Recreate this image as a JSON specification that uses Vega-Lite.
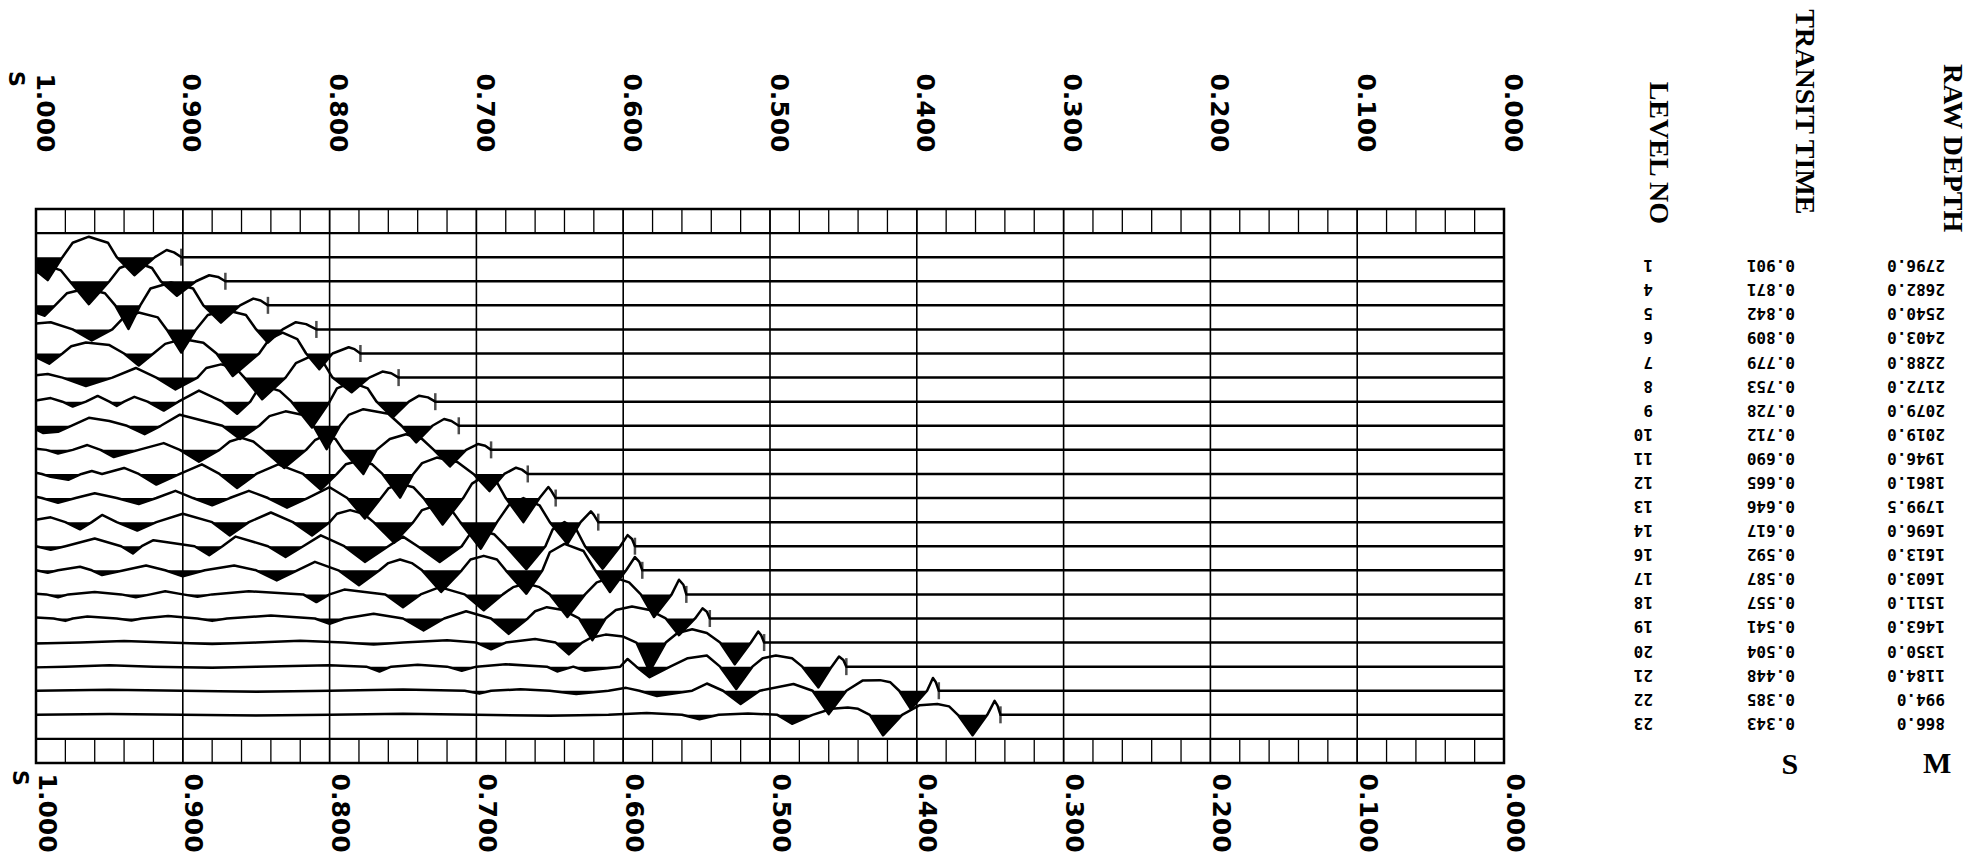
{
"$schema":"https://vega.github.io/schema/vega-lite/v6.json",
"width":1468,"height":554,
"autosize":{"type":"none"},
"padding":{"left":36,"top":209,"right":474,"bottom":96},
"background":"white",
"config":{"view":{"stroke":"black","strokeWidth":2.5}},
"resolve":{"axis":{"x":"independent"}},
"datasets":{
"g":[{"t":0.1},{"t":0.2},{"t":0.3},{"t":0.4},{"t":0.5},{"t":0.6},{"t":0.7},{"t":0.8},{"t":0.9}],
"s":[{"t":0.02},{"t":0.04},{"t":0.06},{"t":0.08},{"t":0.1},{"t":0.12},{"t":0.14},{"t":0.16},{"t":0.18},{"t":0.2},{"t":0.22},{"t":0.24},{"t":0.26},{"t":0.28},{"t":0.3},{"t":0.32},{"t":0.34},{"t":0.36},{"t":0.38},{"t":0.4},{"t":0.42},{"t":0.44},{"t":0.46},{"t":0.48},{"t":0.5},{"t":0.52},{"t":0.54},{"t":0.56},{"t":0.58},{"t":0.6},{"t":0.62},{"t":0.64},{"t":0.66},{"t":0.68},{"t":0.7},{"t":0.72},{"t":0.74},{"t":0.76},{"t":0.78},{"t":0.8},{"t":0.82},{"t":0.84},{"t":0.86},{"t":0.88},{"t":0.9},{"t":0.92},{"t":0.94},{"t":0.96},{"t":0.98}],
"lv":[
{"k":1,"t":0.901,"lvl":"1","d":"2796.0"},{"k":2,"t":0.871,"lvl":"4","d":"2682.0"},{"k":3,"t":0.842,"lvl":"5","d":"2540.0"},{"k":4,"t":0.809,"lvl":"6","d":"2403.0"},{"k":5,"t":0.779,"lvl":"7","d":"2288.0"},{"k":6,"t":0.753,"lvl":"8","d":"2172.0"},{"k":7,"t":0.728,"lvl":"9","d":"2079.0"},{"k":8,"t":0.712,"lvl":"10","d":"2019.0"},{"k":9,"t":0.690,"lvl":"11","d":"1946.0"},{"k":10,"t":0.665,"lvl":"12","d":"1861.0"},{"k":11,"t":0.646,"lvl":"13","d":"1799.5"},{"k":12,"t":0.617,"lvl":"14","d":"1696.0"},{"k":13,"t":0.592,"lvl":"16","d":"1613.0"},{"k":14,"t":0.587,"lvl":"17","d":"1603.0"},{"k":15,"t":0.557,"lvl":"18","d":"1511.0"},{"k":16,"t":0.541,"lvl":"19","d":"1463.0"},{"k":17,"t":0.504,"lvl":"20","d":"1350.0"},{"k":18,"t":0.448,"lvl":"21","d":"1184.0"},{"k":19,"t":0.385,"lvl":"22","d":"994.0"},{"k":20,"t":0.343,"lvl":"23","d":"866.0"}],
"w":[
{"k":1,"t":0,"v":1},{"k":1,"t":0.901,"v":1},{"k":1,"t":0.906,"v":0.8},{"k":1,"t":0.911,"v":0.7},{"k":1,"t":0.919,"v":1},{"k":1,"t":0.933,"v":1.75},{"k":1,"t":0.945,"v":1},{"k":1,"t":0.951,"v":0.4},{"k":1,"t":0.964,"v":0.15},{"k":1,"t":0.975,"v":0.4},{"k":1,"t":0.982,"v":1},{"k":1,"t":0.992,"v":1.95},{"k":1,"t":1,"v":1.55},
{"k":2,"t":0,"v":2},{"k":2,"t":0.871,"v":2},{"k":2,"t":0.876,"v":1.82},{"k":2,"t":0.882,"v":1.75},{"k":2,"t":0.891,"v":2},{"k":2,"t":0.904,"v":2.6},{"k":2,"t":0.915,"v":2},{"k":2,"t":0.921,"v":1.45},{"k":2,"t":0.932,"v":1.2},{"k":2,"t":0.943,"v":1.45},{"k":2,"t":0.95,"v":2},{"k":2,"t":0.964,"v":2.95},{"k":2,"t":0.977,"v":2},{"k":2,"t":0.983,"v":1.55},{"k":2,"t":0.99,"v":1.4},{"k":2,"t":1,"v":1.65},
{"k":3,"t":0,"v":3},{"k":3,"t":0.842,"v":3},{"k":3,"t":0.847,"v":2.8},{"k":3,"t":0.852,"v":2.72},{"k":3,"t":0.861,"v":3},{"k":3,"t":0.874,"v":3.72},{"k":3,"t":0.886,"v":3},{"k":3,"t":0.893,"v":2.3},{"k":3,"t":0.908,"v":2.05},{"k":3,"t":0.922,"v":2.3},{"k":3,"t":0.929,"v":3},{"k":3,"t":0.937,"v":3.98},{"k":3,"t":0.946,"v":3},{"k":3,"t":0.953,"v":2.5},{"k":3,"t":0.966,"v":2.3},{"k":3,"t":0.979,"v":2.5},{"k":3,"t":0.987,"v":3},{"k":3,"t":0.994,"v":3.43},{"k":3,"t":1,"v":3.3},
{"k":4,"t":0,"v":4},{"k":4,"t":0.809,"v":4},{"k":4,"t":0.816,"v":3.78},{"k":4,"t":0.823,"v":3.7},{"k":4,"t":0.832,"v":4},{"k":4,"t":0.842,"v":4.55},{"k":4,"t":0.85,"v":4},{"k":4,"t":0.857,"v":3.4},{"k":4,"t":0.87,"v":3.2},{"k":4,"t":0.883,"v":3.4},{"k":4,"t":0.891,"v":4},{"k":4,"t":0.901,"v":4.96},{"k":4,"t":0.911,"v":4},{"k":4,"t":0.917,"v":3.5},{"k":4,"t":0.93,"v":3.3},{"k":4,"t":0.941,"v":3.55},{"k":4,"t":0.948,"v":4},{"k":4,"t":0.962,"v":4.46},{"k":4,"t":0.975,"v":4},{"k":4,"t":0.99,"v":3.7},{"k":4,"t":1,"v":3.75},
{"k":5,"t":0,"v":5},{"k":5,"t":0.779,"v":5},{"k":5,"t":0.783,"v":4.82},{"k":5,"t":0.787,"v":4.74},{"k":5,"t":0.798,"v":5},{"k":5,"t":0.807,"v":5.65},{"k":5,"t":0.816,"v":5},{"k":5,"t":0.822,"v":4.4},{"k":5,"t":0.832,"v":4.13},{"k":5,"t":0.841,"v":4.4},{"k":5,"t":0.848,"v":5},{"k":5,"t":0.866,"v":5.93},{"k":5,"t":0.877,"v":5},{"k":5,"t":0.886,"v":4.55},{"k":5,"t":0.9,"v":4.4},{"k":5,"t":0.912,"v":4.6},{"k":5,"t":0.92,"v":5},{"k":5,"t":0.93,"v":5.5},{"k":5,"t":0.94,"v":5},{"k":5,"t":0.95,"v":4.65},{"k":5,"t":0.966,"v":4.54},{"k":5,"t":0.976,"v":4.7},{"k":5,"t":0.982,"v":5},{"k":5,"t":0.991,"v":5.42},{"k":5,"t":1,"v":5.15},
{"k":6,"t":0,"v":6},{"k":6,"t":0.753,"v":6},{"k":6,"t":0.758,"v":5.82},{"k":6,"t":0.764,"v":5.75},{"k":6,"t":0.773,"v":6},{"k":6,"t":0.785,"v":6.61},{"k":6,"t":0.798,"v":6},{"k":6,"t":0.804,"v":5.4},{"k":6,"t":0.814,"v":5.15},{"k":6,"t":0.823,"v":5.4},{"k":6,"t":0.83,"v":6},{"k":6,"t":0.846,"v":6.9},{"k":6,"t":0.858,"v":6},{"k":6,"t":0.864,"v":5.6},{"k":6,"t":0.874,"v":5.45},{"k":6,"t":0.884,"v":5.6},{"k":6,"t":0.89,"v":6},{"k":6,"t":0.905,"v":6.49},{"k":6,"t":0.918,"v":6},{"k":6,"t":0.932,"v":5.6},{"k":6,"t":0.948,"v":6},{"k":6,"t":0.966,"v":6.35},{"k":6,"t":0.982,"v":6},{"k":6,"t":0.992,"v":5.85},{"k":6,"t":1,"v":5.9},
{"k":7,"t":0,"v":7},{"k":7,"t":0.728,"v":7},{"k":7,"t":0.733,"v":6.82},{"k":7,"t":0.739,"v":6.75},{"k":7,"t":0.746,"v":7},{"k":7,"t":0.757,"v":7.65},{"k":7,"t":0.768,"v":7},{"k":7,"t":0.774,"v":6.45},{"k":7,"t":0.785,"v":6.2},{"k":7,"t":0.795,"v":6.45},{"k":7,"t":0.8,"v":7},{"k":7,"t":0.812,"v":8.07},{"k":7,"t":0.826,"v":7},{"k":7,"t":0.834,"v":6.55},{"k":7,"t":0.842,"v":6.4},{"k":7,"t":0.85,"v":6.6},{"k":7,"t":0.854,"v":7},{"k":7,"t":0.863,"v":7.5},{"k":7,"t":0.873,"v":7},{"k":7,"t":0.889,"v":6.54},{"k":7,"t":0.903,"v":7},{"k":7,"t":0.913,"v":7.37},{"k":7,"t":0.924,"v":7},{"k":7,"t":0.933,"v":6.8},{"k":7,"t":0.94,"v":7},{"k":7,"t":0.945,"v":7.18},{"k":7,"t":0.95,"v":7},{"k":7,"t":0.958,"v":6.76},{"k":7,"t":0.966,"v":7},{"k":7,"t":0.975,"v":7.2},{"k":7,"t":0.982,"v":7},{"k":7,"t":0.99,"v":6.85},{"k":7,"t":1,"v":6.95},
{"k":8,"t":0,"v":8},{"k":8,"t":0.712,"v":8},{"k":8,"t":0.717,"v":7.8},{"k":8,"t":0.722,"v":7.72},{"k":8,"t":0.73,"v":8},{"k":8,"t":0.741,"v":8.69},{"k":8,"t":0.751,"v":8},{"k":8,"t":0.76,"v":7.5},{"k":8,"t":0.777,"v":7.31},{"k":8,"t":0.787,"v":7.55},{"k":8,"t":0.793,"v":8},{"k":8,"t":0.802,"v":8.97},{"k":8,"t":0.811,"v":8},{"k":8,"t":0.818,"v":7.55},{"k":8,"t":0.83,"v":7.4},{"k":8,"t":0.841,"v":7.6},{"k":8,"t":0.848,"v":8},{"k":8,"t":0.861,"v":8.55},{"k":8,"t":0.873,"v":8},{"k":8,"t":0.902,"v":7.54},{"k":8,"t":0.915,"v":8},{"k":8,"t":0.926,"v":8.35},{"k":8,"t":0.938,"v":8},{"k":8,"t":0.95,"v":7.8},{"k":8,"t":0.964,"v":7.67},{"k":8,"t":0.976,"v":8},{"k":8,"t":0.985,"v":8.25},{"k":8,"t":0.995,"v":8.3},{"k":8,"t":1,"v":8.15},
{"k":9,"t":0,"v":9},{"k":9,"t":0.69,"v":9},{"k":9,"t":0.694,"v":8.83},{"k":9,"t":0.699,"v":8.76},{"k":9,"t":0.707,"v":9},{"k":9,"t":0.718,"v":9.69},{"k":9,"t":0.729,"v":9},{"k":9,"t":0.737,"v":8.55},{"k":9,"t":0.748,"v":8.35},{"k":9,"t":0.759,"v":8.55},{"k":9,"t":0.768,"v":9},{"k":9,"t":0.777,"v":10},{"k":9,"t":0.791,"v":9},{"k":9,"t":0.796,"v":8.55},{"k":9,"t":0.803,"v":8.4},{"k":9,"t":0.81,"v":8.6},{"k":9,"t":0.816,"v":9},{"k":9,"t":0.831,"v":9.75},{"k":9,"t":0.845,"v":9},{"k":9,"t":0.852,"v":8.65},{"k":9,"t":0.86,"v":8.5},{"k":9,"t":0.868,"v":8.65},{"k":9,"t":0.875,"v":9},{"k":9,"t":0.889,"v":9.49},{"k":9,"t":0.902,"v":9},{"k":9,"t":0.913,"v":8.72},{"k":9,"t":0.93,"v":9},{"k":9,"t":0.947,"v":9.3},{"k":9,"t":0.956,"v":9},{"k":9,"t":0.965,"v":8.8},{"k":9,"t":0.975,"v":9},{"k":9,"t":0.985,"v":9.15},{"k":9,"t":0.993,"v":9},{"k":9,"t":1,"v":8.95},
{"k":10,"t":0,"v":10},{"k":10,"t":0.665,"v":10},{"k":10,"t":0.669,"v":9.82},{"k":10,"t":0.673,"v":9.74},{"k":10,"t":0.681,"v":10},{"k":10,"t":0.691,"v":10.71},{"k":10,"t":0.702,"v":10},{"k":10,"t":0.713,"v":9.5},{"k":10,"t":0.727,"v":9.32},{"k":10,"t":0.737,"v":9.55},{"k":10,"t":0.743,"v":10},{"k":10,"t":0.752,"v":10.98},{"k":10,"t":0.764,"v":10},{"k":10,"t":0.771,"v":9.6},{"k":10,"t":0.78,"v":9.45},{"k":10,"t":0.789,"v":9.6},{"k":10,"t":0.795,"v":10},{"k":10,"t":0.806,"v":10.65},{"k":10,"t":0.818,"v":10},{"k":10,"t":0.835,"v":9.6},{"k":10,"t":0.85,"v":10},{"k":10,"t":0.863,"v":10.58},{"k":10,"t":0.875,"v":10},{"k":10,"t":0.887,"v":9.6},{"k":10,"t":0.902,"v":10},{"k":10,"t":0.918,"v":10.44},{"k":10,"t":0.93,"v":10},{"k":10,"t":0.94,"v":9.75},{"k":10,"t":0.955,"v":10},{"k":10,"t":0.962,"v":9.88},{"k":10,"t":0.969,"v":10},{"k":10,"t":0.978,"v":10.24},{"k":10,"t":0.99,"v":10.12},{"k":10,"t":0.996,"v":10},{"k":10,"t":1,"v":9.95},
{"k":11,"t":0,"v":11},{"k":11,"t":0.646,"v":11},{"k":11,"t":0.649,"v":10.7},{"k":11,"t":0.651,"v":10.54},{"k":11,"t":0.657,"v":11},{"k":11,"t":0.668,"v":12},{"k":11,"t":0.68,"v":11},{"k":11,"t":0.686,"v":10.35},{"k":11,"t":0.695,"v":10.1},{"k":11,"t":0.703,"v":10.4},{"k":11,"t":0.709,"v":11},{"k":11,"t":0.723,"v":12.1},{"k":11,"t":0.736,"v":11},{"k":11,"t":0.743,"v":10.55},{"k":11,"t":0.752,"v":10.4},{"k":11,"t":0.76,"v":10.6},{"k":11,"t":0.765,"v":11},{"k":11,"t":0.776,"v":11.85},{"k":11,"t":0.788,"v":11},{"k":11,"t":0.8,"v":10.55},{"k":11,"t":0.815,"v":11},{"k":11,"t":0.829,"v":11.4},{"k":11,"t":0.842,"v":11},{"k":11,"t":0.855,"v":10.7},{"k":11,"t":0.868,"v":11},{"k":11,"t":0.88,"v":11.3},{"k":11,"t":0.893,"v":11},{"k":11,"t":0.905,"v":10.7},{"k":11,"t":0.918,"v":11},{"k":11,"t":0.93,"v":11.25},{"k":11,"t":0.945,"v":11},{"k":11,"t":0.96,"v":10.8},{"k":11,"t":0.973,"v":11},{"k":11,"t":0.985,"v":11.2},{"k":11,"t":0.996,"v":11},{"k":11,"t":1,"v":10.95},
{"k":12,"t":0,"v":12},{"k":12,"t":0.617,"v":12},{"k":12,"t":0.62,"v":11.7},{"k":12,"t":0.622,"v":11.55},{"k":12,"t":0.629,"v":12},{"k":12,"t":0.638,"v":12.9},{"k":12,"t":0.65,"v":12},{"k":12,"t":0.657,"v":11.3},{"k":12,"t":0.668,"v":11},{"k":12,"t":0.678,"v":11.3},{"k":12,"t":0.686,"v":12},{"k":12,"t":0.697,"v":13.1},{"k":12,"t":0.711,"v":12},{"k":12,"t":0.717,"v":11.5},{"k":12,"t":0.727,"v":11.3},{"k":12,"t":0.737,"v":11.5},{"k":12,"t":0.743,"v":12},{"k":12,"t":0.756,"v":12.85},{"k":12,"t":0.77,"v":12},{"k":12,"t":0.777,"v":11.65},{"k":12,"t":0.786,"v":11.5},{"k":12,"t":0.795,"v":11.65},{"k":12,"t":0.8,"v":12},{"k":12,"t":0.812,"v":12.55},{"k":12,"t":0.825,"v":12},{"k":12,"t":0.84,"v":11.6},{"k":12,"t":0.855,"v":12},{"k":12,"t":0.868,"v":12.55},{"k":12,"t":0.88,"v":12},{"k":12,"t":0.9,"v":11.65},{"k":12,"t":0.918,"v":12},{"k":12,"t":0.931,"v":12.35},{"k":12,"t":0.945,"v":12},{"k":12,"t":0.955,"v":11.7},{"k":12,"t":0.962,"v":12},{"k":12,"t":0.97,"v":12.3},{"k":12,"t":0.98,"v":12},{"k":12,"t":0.99,"v":11.8},{"k":12,"t":1,"v":11.9},
{"k":13,"t":0,"v":13},{"k":13,"t":0.592,"v":13},{"k":13,"t":0.594,"v":12.7},{"k":13,"t":0.597,"v":12.54},{"k":13,"t":0.602,"v":13},{"k":13,"t":0.614,"v":13.93},{"k":13,"t":0.626,"v":13},{"k":13,"t":0.632,"v":12.3},{"k":13,"t":0.64,"v":12},{"k":13,"t":0.648,"v":12.3},{"k":13,"t":0.653,"v":13},{"k":13,"t":0.666,"v":13.95},{"k":13,"t":0.68,"v":13},{"k":13,"t":0.688,"v":12.5},{"k":13,"t":0.697,"v":12.35},{"k":13,"t":0.705,"v":12.55},{"k":13,"t":0.71,"v":13},{"k":13,"t":0.725,"v":13.65},{"k":13,"t":0.74,"v":13},{"k":13,"t":0.75,"v":12.6},{"k":13,"t":0.76,"v":13},{"k":13,"t":0.776,"v":13.65},{"k":13,"t":0.79,"v":13},{"k":13,"t":0.806,"v":12.55},{"k":13,"t":0.818,"v":13},{"k":13,"t":0.83,"v":13.45},{"k":13,"t":0.842,"v":13},{"k":13,"t":0.864,"v":12.6},{"k":13,"t":0.873,"v":13},{"k":13,"t":0.882,"v":13.37},{"k":13,"t":0.892,"v":13},{"k":13,"t":0.92,"v":12.75},{"k":13,"t":0.928,"v":13},{"k":13,"t":0.934,"v":13.3},{"k":13,"t":0.942,"v":13},{"k":13,"t":0.96,"v":12.68},{"k":13,"t":0.98,"v":13},{"k":13,"t":0.99,"v":13.15},{"k":13,"t":1,"v":13},
{"k":14,"t":0,"v":14},{"k":14,"t":0.587,"v":14},{"k":14,"t":0.589,"v":13.65},{"k":14,"t":0.592,"v":13.45},{"k":14,"t":0.598,"v":14},{"k":14,"t":0.609,"v":14.9},{"k":14,"t":0.619,"v":14},{"k":14,"t":0.627,"v":13.2},{"k":14,"t":0.64,"v":12.9},{"k":14,"t":0.65,"v":13.25},{"k":14,"t":0.655,"v":14},{"k":14,"t":0.666,"v":14.97},{"k":14,"t":0.68,"v":14},{"k":14,"t":0.686,"v":13.55},{"k":14,"t":0.695,"v":13.4},{"k":14,"t":0.704,"v":13.55},{"k":14,"t":0.71,"v":14},{"k":14,"t":0.724,"v":14.9},{"k":14,"t":0.737,"v":14},{"k":14,"t":0.744,"v":13.7},{"k":14,"t":0.752,"v":13.55},{"k":14,"t":0.76,"v":13.7},{"k":14,"t":0.766,"v":14},{"k":14,"t":0.78,"v":14.62},{"k":14,"t":0.794,"v":14},{"k":14,"t":0.81,"v":13.65},{"k":14,"t":0.822,"v":14},{"k":14,"t":0.836,"v":14.42},{"k":14,"t":0.85,"v":14},{"k":14,"t":0.865,"v":13.8},{"k":14,"t":0.885,"v":14},{"k":14,"t":0.9,"v":14.25},{"k":14,"t":0.912,"v":14},{"k":14,"t":0.925,"v":13.8},{"k":14,"t":0.94,"v":14},{"k":14,"t":0.955,"v":14.2},{"k":14,"t":0.962,"v":14},{"k":14,"t":0.97,"v":13.85},{"k":14,"t":0.985,"v":14},{"k":14,"t":0.992,"v":14.1},{"k":14,"t":1,"v":14},
{"k":15,"t":0,"v":15},{"k":15,"t":0.557,"v":15},{"k":15,"t":0.559,"v":14.6},{"k":15,"t":0.562,"v":14.39},{"k":15,"t":0.567,"v":15},{"k":15,"t":0.579,"v":15.94},{"k":15,"t":0.588,"v":15},{"k":15,"t":0.596,"v":14.5},{"k":15,"t":0.607,"v":14.28},{"k":15,"t":0.618,"v":14.5},{"k":15,"t":0.626,"v":15},{"k":15,"t":0.638,"v":15.94},{"k":15,"t":0.65,"v":15},{"k":15,"t":0.657,"v":14.7},{"k":15,"t":0.666,"v":14.55},{"k":15,"t":0.675,"v":14.7},{"k":15,"t":0.682,"v":15},{"k":15,"t":0.695,"v":15.66},{"k":15,"t":0.708,"v":15},{"k":15,"t":0.725,"v":14.7},{"k":15,"t":0.738,"v":15},{"k":15,"t":0.75,"v":15.53},{"k":15,"t":0.762,"v":15},{"k":15,"t":0.79,"v":14.8},{"k":15,"t":0.8,"v":15},{"k":15,"t":0.809,"v":15.32},{"k":15,"t":0.818,"v":15},{"k":15,"t":0.855,"v":14.87},{"k":15,"t":0.88,"v":15},{"k":15,"t":0.89,"v":15.1},{"k":15,"t":0.9,"v":15},{"k":15,"t":0.912,"v":14.87},{"k":15,"t":0.922,"v":15},{"k":15,"t":0.932,"v":15.12},{"k":15,"t":0.942,"v":15},{"k":15,"t":0.96,"v":14.9},{"k":15,"t":0.978,"v":15},{"k":15,"t":0.985,"v":15.12},{"k":15,"t":0.993,"v":15},{"k":15,"t":1,"v":14.97},
{"k":16,"t":0,"v":16},{"k":16,"t":0.541,"v":16},{"k":16,"t":0.543,"v":15.72},{"k":16,"t":0.546,"v":15.58},{"k":16,"t":0.551,"v":16},{"k":16,"t":0.562,"v":16.69},{"k":16,"t":0.571,"v":16},{"k":16,"t":0.582,"v":15.65},{"k":16,"t":0.594,"v":15.5},{"k":16,"t":0.605,"v":15.65},{"k":16,"t":0.612,"v":16},{"k":16,"t":0.621,"v":16.9},{"k":16,"t":0.63,"v":16},{"k":16,"t":0.641,"v":15.65},{"k":16,"t":0.652,"v":15.53},{"k":16,"t":0.66,"v":15.7},{"k":16,"t":0.665,"v":16},{"k":16,"t":0.678,"v":16.64},{"k":16,"t":0.69,"v":16},{"k":16,"t":0.707,"v":15.7},{"k":16,"t":0.722,"v":16},{"k":16,"t":0.736,"v":16.5},{"k":16,"t":0.75,"v":16},{"k":16,"t":0.77,"v":15.8},{"k":16,"t":0.79,"v":16},{"k":16,"t":0.8,"v":16.22},{"k":16,"t":0.81,"v":16},{"k":16,"t":0.84,"v":15.88},{"k":16,"t":0.87,"v":16},{"k":16,"t":0.88,"v":16.1},{"k":16,"t":0.89,"v":16},{"k":16,"t":0.91,"v":15.9},{"k":16,"t":0.928,"v":16},{"k":16,"t":0.935,"v":16.08},{"k":16,"t":0.945,"v":16},{"k":16,"t":0.965,"v":15.92},{"k":16,"t":0.975,"v":16},{"k":16,"t":0.98,"v":16.1},{"k":16,"t":0.988,"v":16},{"k":16,"t":1,"v":15.96},
{"k":17,"t":0,"v":17},{"k":17,"t":0.504,"v":17},{"k":17,"t":0.506,"v":16.7},{"k":17,"t":0.508,"v":16.54},{"k":17,"t":0.513,"v":17},{"k":17,"t":0.524,"v":17.9},{"k":17,"t":0.534,"v":17},{"k":17,"t":0.543,"v":16.6},{"k":17,"t":0.553,"v":16.45},{"k":17,"t":0.563,"v":16.6},{"k":17,"t":0.571,"v":17},{"k":17,"t":0.582,"v":18.2},{"k":17,"t":0.591,"v":17},{"k":17,"t":0.6,"v":16.75},{"k":17,"t":0.612,"v":16.67},{"k":17,"t":0.622,"v":16.8},{"k":17,"t":0.628,"v":17},{"k":17,"t":0.637,"v":17.49},{"k":17,"t":0.646,"v":17},{"k":17,"t":0.66,"v":16.85},{"k":17,"t":0.68,"v":17},{"k":17,"t":0.69,"v":17.28},{"k":17,"t":0.7,"v":17},{"k":17,"t":0.72,"v":16.9},{"k":17,"t":0.75,"v":17},{"k":17,"t":0.77,"v":17.08},{"k":17,"t":0.79,"v":17},{"k":17,"t":0.82,"v":16.92},{"k":17,"t":0.85,"v":17},{"k":17,"t":0.88,"v":17.06},{"k":17,"t":0.91,"v":17},{"k":17,"t":0.94,"v":16.94},{"k":17,"t":0.97,"v":17},{"k":17,"t":1,"v":17.04},
{"k":18,"t":0,"v":18},{"k":18,"t":0.448,"v":18},{"k":18,"t":0.45,"v":17.72},{"k":18,"t":0.453,"v":17.58},{"k":18,"t":0.458,"v":18},{"k":18,"t":0.467,"v":18.86},{"k":18,"t":0.478,"v":18},{"k":18,"t":0.485,"v":17.65},{"k":18,"t":0.496,"v":17.54},{"k":18,"t":0.505,"v":17.65},{"k":18,"t":0.512,"v":18},{"k":18,"t":0.523,"v":18.93},{"k":18,"t":0.534,"v":18},{"k":18,"t":0.543,"v":17.54},{"k":18,"t":0.556,"v":17.65},{"k":18,"t":0.568,"v":18},{"k":18,"t":0.582,"v":18.44},{"k":18,"t":0.591,"v":18},{"k":18,"t":0.597,"v":17.68},{"k":18,"t":0.602,"v":18},{"k":18,"t":0.626,"v":18.17},{"k":18,"t":0.634,"v":18},{"k":18,"t":0.645,"v":18.2},{"k":18,"t":0.652,"v":18},{"k":18,"t":0.68,"v":17.9},{"k":18,"t":0.7,"v":18},{"k":18,"t":0.71,"v":18.17},{"k":18,"t":0.72,"v":18},{"k":18,"t":0.74,"v":17.92},{"k":18,"t":0.758,"v":18},{"k":18,"t":0.766,"v":18.2},{"k":18,"t":0.775,"v":18},{"k":18,"t":0.8,"v":17.94},{"k":18,"t":0.85,"v":18},{"k":18,"t":0.88,"v":18.05},{"k":18,"t":0.92,"v":18},{"k":18,"t":0.95,"v":17.94},{"k":18,"t":0.98,"v":18},{"k":18,"t":1,"v":18.03},
{"k":19,"t":0,"v":19},{"k":19,"t":0.385,"v":19},{"k":19,"t":0.387,"v":18.65},{"k":19,"t":0.389,"v":18.47},{"k":19,"t":0.393,"v":19},{"k":19,"t":0.404,"v":19.76},{"k":19,"t":0.412,"v":19},{"k":19,"t":0.418,"v":18.65},{"k":19,"t":0.425,"v":18.56},{"k":19,"t":0.437,"v":18.58},{"k":19,"t":0.448,"v":19},{"k":19,"t":0.46,"v":19.97},{"k":19,"t":0.471,"v":19},{"k":19,"t":0.484,"v":18.72},{"k":19,"t":0.507,"v":19},{"k":19,"t":0.52,"v":19.55},{"k":19,"t":0.532,"v":19},{"k":19,"t":0.543,"v":18.7},{"k":19,"t":0.553,"v":19},{"k":19,"t":0.577,"v":19.22},{"k":19,"t":0.589,"v":19},{"k":19,"t":0.598,"v":18.88},{"k":19,"t":0.61,"v":19},{"k":19,"t":0.632,"v":19.14},{"k":19,"t":0.65,"v":19},{"k":19,"t":0.67,"v":18.94},{"k":19,"t":0.69,"v":19},{"k":19,"t":0.698,"v":19.12},{"k":19,"t":0.708,"v":19},{"k":19,"t":0.75,"v":18.95},{"k":19,"t":0.8,"v":19},{"k":19,"t":0.85,"v":19.04},{"k":19,"t":0.9,"v":19},{"k":19,"t":0.95,"v":18.96},{"k":19,"t":1,"v":19},
{"k":20,"t":0,"v":20},{"k":20,"t":0.343,"v":20},{"k":20,"t":0.345,"v":19.62},{"k":20,"t":0.347,"v":19.42},{"k":20,"t":0.352,"v":20},{"k":20,"t":0.362,"v":20.85},{"k":20,"t":0.372,"v":20},{"k":20,"t":0.378,"v":19.65},{"k":20,"t":0.386,"v":19.55},{"k":20,"t":0.398,"v":19.6},{"k":20,"t":0.41,"v":20},{"k":20,"t":0.423,"v":20.85},{"k":20,"t":0.432,"v":20},{"k":20,"t":0.44,"v":19.75},{"k":20,"t":0.447,"v":19.7},{"k":20,"t":0.458,"v":19.75},{"k":20,"t":0.471,"v":20},{"k":20,"t":0.485,"v":20.37},{"k":20,"t":0.495,"v":20},{"k":20,"t":0.515,"v":19.94},{"k":20,"t":0.535,"v":20},{"k":20,"t":0.548,"v":20.18},{"k":20,"t":0.56,"v":20},{"k":20,"t":0.584,"v":19.92},{"k":20,"t":0.61,"v":20},{"k":20,"t":0.65,"v":20.04},{"k":20,"t":0.7,"v":20},{"k":20,"t":0.75,"v":19.96},{"k":20,"t":0.8,"v":20},{"k":20,"t":0.85,"v":20.03},{"k":20,"t":0.9,"v":20},{"k":20,"t":0.95,"v":19.97},{"k":20,"t":1,"v":20}
]},
"layer":[
{"data":{"name":"g"},"mark":{"type":"rule","color":"black","strokeWidth":1.6},
 "encoding":{"x":{"field":"t","type":"quantitative","scale":{"domain":[0,1],"reverse":true,"nice":false,"zero":false},
   "axis":{"orient":"top","values":[0,0.1,0.2,0.3,0.4,0.5,0.6,0.7,0.8,0.9,1],"format":".3f","labelAngle":90,"labelAlign":"right","labelBaseline":"middle","labelFont":"DejaVu Sans","labelFontWeight":"bold","labelFontSize":25,"labelColor":"black","labelPadding":57,"labelOffset":8,"ticks":false,"domain":false,"grid":false,"title":null,"labelOverlap":false,"labelBound":false,"labelFlush":false}}}},
{"data":{"name":"s"},"mark":{"type":"rule","color":"black","strokeWidth":1.3},
 "encoding":{"x":{"field":"t","type":"quantitative","scale":{"domain":[0,1],"reverse":true,"nice":false,"zero":false},
   "axis":{"orient":"bottom","values":[0,0.1,0.2,0.3,0.4,0.5,0.6,0.7,0.8,0.9,1],"format":".3f","labelAngle":90,"labelAlign":"left","labelBaseline":"middle","labelFont":"DejaVu Sans","labelFontWeight":"bold","labelFontSize":25,"labelColor":"black","labelPadding":10,"labelOffset":10,"ticks":false,"domain":false,"grid":false,"title":null,"labelOverlap":false,"labelBound":false,"labelFlush":false}},
  "y":{"datum":-1,"scale":{"domain":[-1,22],"reverse":true,"nice":false,"zero":false},"axis":null},"y2":{"datum":0}}},
{"data":{"name":"s"},"mark":{"type":"rule","color":"black","strokeWidth":1.3},
 "encoding":{"x":{"field":"t","type":"quantitative","axis":null},"y":{"datum":21,"axis":null},"y2":{"datum":22}}},
{"data":{"values":[{}]},"mark":{"type":"rule","color":"black","strokeWidth":2.2},"encoding":{"y":{"datum":0,"axis":null}}},
{"data":{"values":[{}]},"mark":{"type":"rule","color":"black","strokeWidth":2.2},"encoding":{"y":{"datum":21,"axis":null}}},
{"data":{"name":"w"},"transform":[{"filter":"datum.v >= datum.k"}],
 "mark":{"type":"area","color":"black","interpolate":"linear","orient":"vertical"},
 "encoding":{"x":{"field":"t","type":"quantitative","axis":null},"y":{"field":"v","type":"quantitative","axis":null,"stack":null},"y2":{"field":"k"},"detail":{"field":"k","type":"nominal"}}},
{"data":{"name":"w"},
 "mark":{"type":"line","color":"black","strokeWidth":2.5,"interpolate":"linear","strokeJoin":"round"},
 "encoding":{"x":{"field":"t","type":"quantitative","axis":null},"y":{"field":"v","type":"quantitative","axis":null},"detail":{"field":"k","type":"nominal"}}},
{"data":{"name":"lv"},"mark":{"type":"tick","orient":"vertical","color":"black","size":17,"thickness":2.5},
 "encoding":{"x":{"field":"t","type":"quantitative","axis":null},"y":{"field":"k","type":"quantitative","axis":null}}},
{"data":{"name":"lv"},"mark":{"type":"text","angle":180,"align":"left","baseline":"middle","dy":-8,"font":"DejaVu Sans Mono","fontWeight":"bold","fontSize":16,"color":"black"},
 "encoding":{"x":{"datum":-0.1015,"axis":null},"y":{"field":"k","type":"quantitative","axis":null},"text":{"field":"lvl"}}},
{"data":{"name":"lv"},"mark":{"type":"text","angle":180,"align":"left","baseline":"middle","dy":-8,"font":"DejaVu Sans Mono","fontWeight":"bold","fontSize":16,"color":"black"},
 "encoding":{"x":{"datum":-0.1982,"axis":null},"y":{"field":"k","type":"quantitative","axis":null},"text":{"field":"t","format":".3f"}}},
{"data":{"name":"lv"},"mark":{"type":"text","angle":180,"align":"left","baseline":"middle","dy":-8,"font":"DejaVu Sans Mono","fontWeight":"bold","fontSize":16,"color":"black"},
 "encoding":{"x":{"datum":-0.3004,"axis":null},"y":{"field":"k","type":"quantitative","axis":null},"text":{"field":"d"}}},
{"data":{"values":[{}]},"mark":{"type":"text","text":"LEVEL NO","angle":90,"align":"center","baseline":"middle","font":"Liberation Serif","fontWeight":"bold","fontSize":28,"color":"black"},
 "encoding":{"x":{"datum":-0.1049,"axis":null},"y":{"datum":-3.33,"axis":null}}},
{"data":{"values":[{}]},"mark":{"type":"text","text":"TRANSIT TIME","angle":90,"align":"center","baseline":"middle","font":"Liberation Serif","fontWeight":"bold","fontSize":28,"color":"black"},
 "encoding":{"x":{"datum":-0.2044,"axis":null},"y":{"datum":-5.03,"axis":null}}},
{"data":{"values":[{}]},"mark":{"type":"text","text":"RAW DEPTH","angle":90,"align":"center","baseline":"middle","font":"Liberation Serif","fontWeight":"bold","fontSize":28,"color":"black"},
 "encoding":{"x":{"datum":-0.3052,"axis":null},"y":{"datum":-3.53,"axis":null}}},
{"data":{"values":[{}]},"mark":{"type":"text","text":"S","align":"center","baseline":"middle","font":"Liberation Serif","fontWeight":"bold","fontSize":30,"color":"black"},
 "encoding":{"x":{"datum":-0.1948,"axis":null},"y":{"datum":22.08,"axis":null}}},
{"data":{"values":[{}]},"mark":{"type":"text","text":"M","align":"center","baseline":"middle","font":"Liberation Serif","fontWeight":"bold","fontSize":30,"color":"black"},
 "encoding":{"x":{"datum":-0.295,"axis":null},"y":{"datum":22.04,"axis":null}}},
{"data":{"values":[{}]},"mark":{"type":"text","text":"S","angle":90,"align":"center","baseline":"middle","font":"DejaVu Sans","fontWeight":"bold","fontSize":22,"color":"black"},
 "encoding":{"x":{"datum":1.0136,"axis":null},"y":{"datum":-6.4,"axis":null}}},
{"data":{"values":[{}]},"mark":{"type":"text","text":"S","angle":90,"align":"center","baseline":"middle","font":"DejaVu Sans","fontWeight":"bold","fontSize":22,"color":"black"},
 "encoding":{"x":{"datum":1.0109,"axis":null},"y":{"datum":22.62,"axis":null}}}
]
}
